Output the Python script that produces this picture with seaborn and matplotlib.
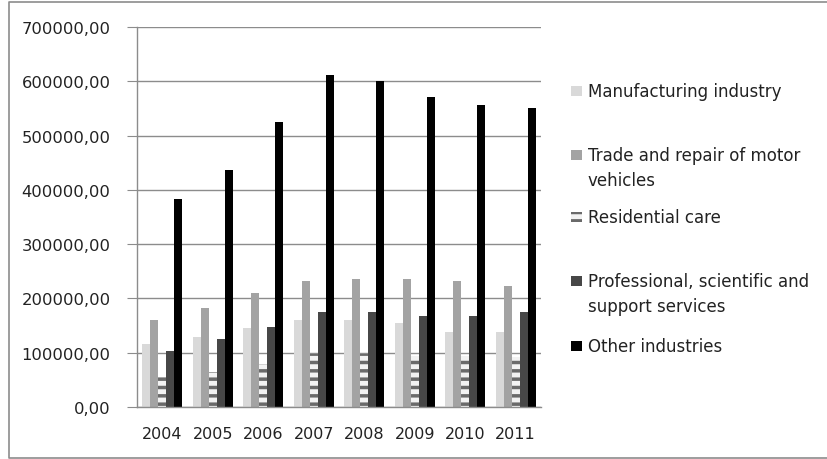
import matplotlib
matplotlib.use('Agg')
import matplotlib.pyplot as plt
import seaborn as sns
import numpy as np
import pandas as pd
from matplotlib.patches import Rectangle
from matplotlib.lines import Line2D
from matplotlib.ticker import FuncFormatter, MultipleLocator

years = ['2004', '2005', '2006', '2007', '2008', '2009', '2010', '2011']
industries = ['Manufacturing industry', 'Trade and repair of motor vehicles',
              'Residential care', 'Professional, scientific and support services',
              'Other industries']
legend_lines = [['Manufacturing industry'],
                ['Trade and repair of motor', 'vehicles'],
                ['Residential care'],
                ['Professional, scientific and', 'support services'],
                ['Other industries']]

manufacturing = [116000, 129000, 145000, 160000, 160000, 155000, 139000, 139000]
trade = [160000, 182000, 210000, 232000, 236000, 236000, 232000, 223000]
residential = [55000, 64000, 79000, 97000, 97000, 94000, 94000, 93000]
professional = [103000, 125000, 147000, 175000, 175000, 168000, 168000, 175000]
other = [383000, 436000, 525000, 611000, 600000, 571000, 556000, 551000]

colors = ['#d9d9d9', '#a3a3a3', '#f2f2f2', '#474747', '#000000']

df = pd.DataFrame({
    'year': years * 5,
    'industry': np.repeat(industries, len(years)),
    'value': manufacturing + trade + residential + professional + other,
})

sns.set_style('white')
plt.rcParams['font.family'] = ['DejaVu Sans']
plt.rcParams['hatch.linewidth'] = 2.5
text_color = '#222222'

fig = plt.figure(figsize=(8.28, 4.6), dpi=100)
W, H = 828, 460
ax = fig.add_axes([137 / W, 1 - 408 / H, (541 - 137) / W, (408 - 28) / H])

sns.barplot(data=df, x='year', y='value', hue='industry', hue_order=industries,
            palette=colors, width=0.8, linewidth=0, legend=False, ax=ax)

# striped bars for residential care
for bar in ax.containers[2]:
    bar.set_hatch('--')
    bar.set_edgecolor('#6a6a6a')
    bar.set_linewidth(0)

ax.set_ylim(0, 700000)
ax.set_xlim(-0.5, len(years) - 0.5)
ax.yaxis.set_major_locator(MultipleLocator(100000))
ax.yaxis.set_major_formatter(FuncFormatter(lambda v, p: f'{v:.2f}'.replace('.', ',')))
ax.set_xlabel('')
ax.set_ylabel('')
ax.grid(axis='y', color='#8c8c8c', linewidth=1)
ax.set_axisbelow(True)
for s in ['top', 'right']:
    ax.spines[s].set_visible(False)
for s in ['left', 'bottom']:
    ax.spines[s].set_color('#8c8c8c')
    ax.spines[s].set_linewidth(1)

ax.set_xticks(np.arange(-0.5, len(years), 1), minor=True)
ax.tick_params(axis='x', which='major', length=0, pad=14, labelsize=11.5, labelcolor=text_color)
ax.tick_params(axis='x', which='minor', length=7, color='#8c8c8c', direction='out')
ax.tick_params(axis='y', length=7, color='#8c8c8c', direction='out', pad=12,
               labelsize=11.8, labelcolor=text_color, left=True)

# legend drawn as entries in two-line slots
slot_y = [92, 156, 218, 282, 347]
for i, lines in enumerate(legend_lines):
    y0 = slot_y[i]
    fig.add_artist(Rectangle((571 / W, 1 - (y0 + 5) / H), 11 / W, 10 / H,
                             transform=fig.transFigure, facecolor=colors[i],
                             edgecolor='#6a6a6a' if i == 2 else 'none',
                             hatch='--' if i == 2 else None, linewidth=0))
    for k, line in enumerate(lines):
        fig.text(588 / W, 1 - (y0 + k * 25) / H, line, fontsize=12,
                 color=text_color, va='center', ha='left')

# outer chart frame: left, top and bottom only (right edge is off the canvas)
x0, xr, yt, yb = 9 / W, 1.0, 1 - 3 / H, 1 - 459 / H
fig.add_artist(Line2D([xr, x0, x0, xr], [yt, yt, yb, yb], transform=fig.transFigure,
                      color='#8c8c8c', linewidth=1.2))

fig.savefig('out.png', dpi=100)
